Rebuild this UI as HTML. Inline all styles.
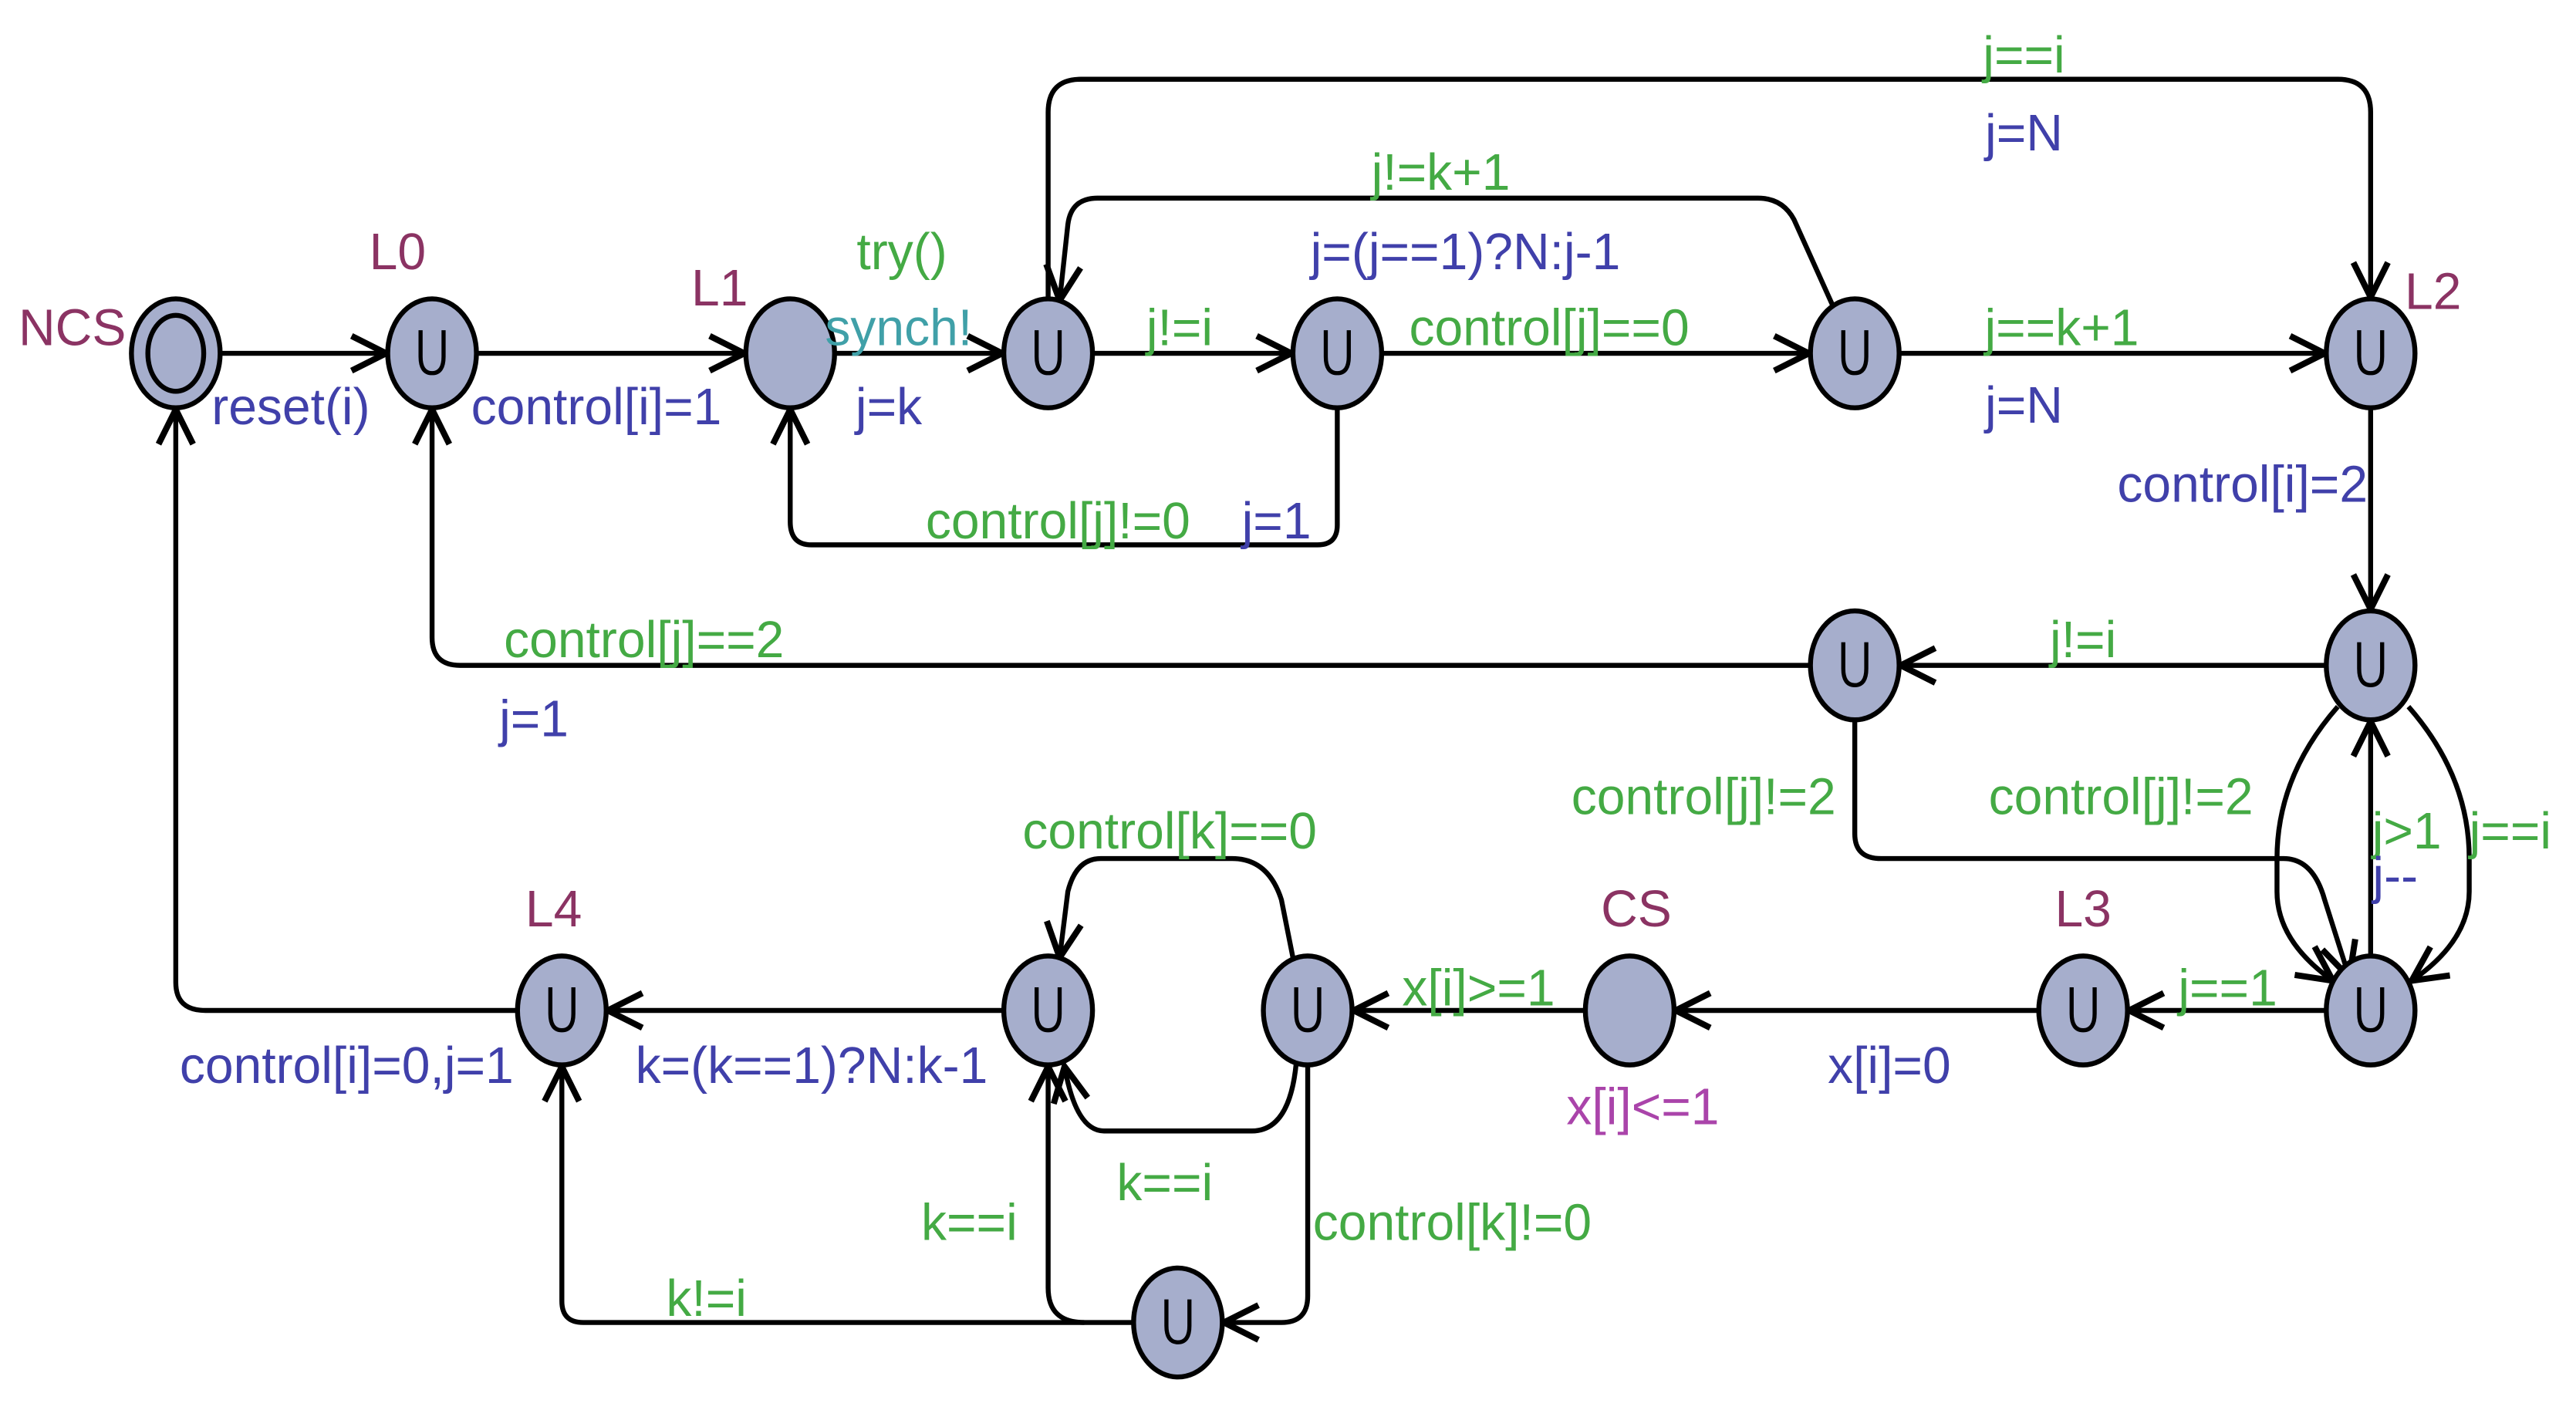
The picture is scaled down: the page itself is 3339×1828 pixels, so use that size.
<!DOCTYPE html>
<html><head><meta charset="utf-8"><style>html,body{margin:0;padding:0;background:#fff}svg{display:block}</style></head>
<body>
<svg width="3339" height="1828" viewBox="0 0 1568 854" preserveAspectRatio="none" xmlns="http://www.w3.org/2000/svg">
<defs>
<marker id="a" markerUnits="userSpaceOnUse" markerWidth="30" markerHeight="30" refX="0" refY="0" viewBox="-16 -10 20 20" orient="auto">
<path d="M-14,-7 L0,0 L-14,7" fill="none" stroke="#000" stroke-width="2.5"/>
</marker>
</defs>
<g fill="none" stroke="#000" stroke-width="3" marker-end="url(#a)">
<path d="M134,214 H235"/>
<path d="M290,214 H453"/>
<path d="M508,214 H610"/>
<path d="M665,214 H786"/>
<path d="M841,214 H1101"/>
<path d="M1156,214 H1415"/>
<path d="M638,181 V68 Q638,48 658,48 H1423 Q1443,48 1443,68 V180"/>
<path d="M1116,186 L1092,133 Q1085,120 1070,120 H668 Q652,120 650,136 L645,182"/>
<path d="M814,247 V318 Q814,330 802,330 H494 Q481,330 481,316 V248"/>
<path d="M1443,247 V369"/>
<path d="M1416,403 H1157"/>
<path d="M1102,403 H280 Q263,403 263,386 V248"/>
<path d="M1129,436 V505 Q1129,520 1145,520 H1390 Q1408,520 1415,545 L1430,592"/>
<path d="M1423,428 Q1386,470 1386,520 V540 Q1386,570 1420,594"/>
<path d="M1466,428 Q1503,470 1503,520 V540 Q1503,570 1468,594"/>
<path d="M1443,579 V437"/>
<path d="M1416,612 H1296"/>
<path d="M1241,612 H1020"/>
<path d="M965,612 H824"/>
<path d="M787,580 L780,545 Q772,520 750,520 H670 Q655,520 650,540 L645,580"/>
<path d="M789,644 Q785,685 762,685 H672 Q655,685 648,646"/>
<path d="M611,612 H370"/>
<path d="M315,612 H125 Q107,612 107,595 V248"/>
<path d="M796,645 V785 Q796,801 780,801 H745"/>
<path d="M690,801 H355 Q342,801 342,788 V646"/>
<path d="M660,801 Q638,801 638,780 V646"/>
</g>
<g fill="#a6aecc" stroke="#000" stroke-width="3">
<ellipse cx="107" cy="214" rx="27" ry="33"/>
<ellipse cx="107" cy="214" rx="17" ry="23"/>
<ellipse cx="263" cy="214" rx="27" ry="33"/>
<ellipse cx="481" cy="214" rx="27" ry="33"/>
<ellipse cx="638" cy="214" rx="27" ry="33"/>
<ellipse cx="814" cy="214" rx="27" ry="33"/>
<ellipse cx="1129" cy="214" rx="27" ry="33"/>
<ellipse cx="1443" cy="214" rx="27" ry="33"/>
<ellipse cx="1443" cy="403" rx="27" ry="33"/>
<ellipse cx="1129" cy="403" rx="27" ry="33"/>
<ellipse cx="1443" cy="612" rx="27" ry="33"/>
<ellipse cx="1268" cy="612" rx="27" ry="33"/>
<ellipse cx="992" cy="612" rx="27" ry="33"/>
<ellipse cx="796" cy="612" rx="27" ry="33"/>
<ellipse cx="638" cy="612" rx="27" ry="33"/>
<ellipse cx="342" cy="612" rx="27" ry="33"/>
<ellipse cx="717" cy="801" rx="27" ry="33"/>
</g>
<g fill="none" stroke="#000" stroke-width="2.5">
<path d="M256,200 V216 Q256,226 263,226 Q270,226 270,216 V200"/>
<path d="M631,200 V216 Q631,226 638,226 Q645,226 645,216 V200"/>
<path d="M807,200 V216 Q807,226 814,226 Q821,226 821,216 V200"/>
<path d="M1122,200 V216 Q1122,226 1129,226 Q1136,226 1136,216 V200"/>
<path d="M1436,200 V216 Q1436,226 1443,226 Q1450,226 1450,216 V200"/>
<path d="M1436,389 V405 Q1436,415 1443,415 Q1450,415 1450,405 V389"/>
<path d="M1122,389 V405 Q1122,415 1129,415 Q1136,415 1136,405 V389"/>
<path d="M1436,598 V614 Q1436,624 1443,624 Q1450,624 1450,614 V598"/>
<path d="M1261,598 V614 Q1261,624 1268,624 Q1275,624 1275,614 V598"/>
<path d="M789,598 V614 Q789,624 796,624 Q803,624 803,614 V598"/>
<path d="M631,598 V614 Q631,624 638,624 Q645,624 645,614 V598"/>
<path d="M335,598 V614 Q335,624 342,624 Q349,624 349,614 V598"/>
<path d="M710,787 V803 Q710,813 717,813 Q724,813 724,803 V787"/>
</g>
<g font-family="Liberation Sans, sans-serif" font-size="31" text-anchor="middle">
<g fill="#8b3363">
<text x="44" y="209">NCS</text>
<text x="242" y="163">L0</text>
<text x="438" y="185">L1</text>
<text x="1481" y="187">L2</text>
<text x="337" y="561">L4</text>
<text x="1268" y="561">L3</text>
<text x="996" y="561">CS</text>
</g>
<g fill="#44aa44">
<text x="549" y="163">try()</text>
<text x="718" y="209">j!=i</text>
<text x="943" y="209">control[j]==0</text>
<text x="1255" y="209">j==k+1</text>
<text x="1232" y="44">j==i</text>
<text x="877" y="115">j!=k+1</text>
<text x="644" y="326">control[j]!=0</text>
<text x="1268" y="398">j!=i</text>
<text x="392" y="398">control[j]==2</text>
<text x="1037" y="493">control[j]!=2</text>
<text x="1291" y="493">control[j]!=2</text>
<text x="1528" y="514">j==i</text>
<text x="1465" y="514">j&gt;1</text>
<text x="1356" y="609">j==1</text>
<text x="900" y="609">x[i]&gt;=1</text>
<text x="712" y="514">control[k]==0</text>
<text x="709" y="727">k==i</text>
<text x="884" y="751">control[k]!=0</text>
<text x="590" y="751">k==i</text>
<text x="430" y="797">k!=i</text>
</g>
<text x="547" y="209" fill="#40a0a8">synch!</text>
<g fill="#4040aa">
<text x="177" y="257">reset(i)</text>
<text x="363" y="257">control[i]=1</text>
<text x="541" y="257">j=k</text>
<text x="1232" y="256">j=N</text>
<text x="1232" y="91">j=N</text>
<text x="892" y="163">j=(j==1)?N:j-1</text>
<text x="777" y="326">j=1</text>
<text x="1365" y="304">control[i]=2</text>
<text x="325" y="446">j=1</text>
<text x="1458" y="541">j--</text>
<text x="1150" y="656">x[i]=0</text>
<text x="494" y="656">k=(k==1)?N:k-1</text>
<text x="211" y="656">control[i]=0,j=1</text>
</g>
<text x="1000" y="681" fill="#aa44aa">x[i]&lt;=1</text>
</g>
</svg>
</body></html>
